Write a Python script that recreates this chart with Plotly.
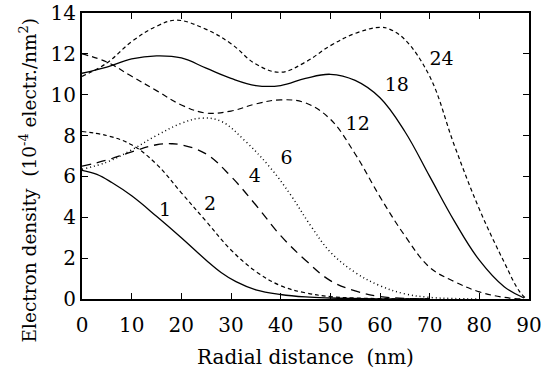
import plotly.graph_objects as go

# Radial distance (nm) sample points and electron density for each curve
x1 = [0, 3, 6, 10, 15, 20, 25, 28, 31, 35, 40, 45, 50, 60, 70]
y1 = [6.3, 6.1, 5.7, 5.05, 4.05, 3.0, 1.9, 1.3, 0.85, 0.45, 0.22, 0.1, 0.05, 0.01, 0.0]

x2 = [0, 5, 10, 15, 20, 25, 30, 35, 40, 45, 50, 55, 60, 70]
y2 = [8.2, 8.0, 7.55, 6.6, 5.2, 3.8, 2.4, 1.35, 0.65, 0.3, 0.12, 0.05, 0.02, 0.0]

x4 = [0, 5, 10, 15, 18, 20, 25, 30, 35, 40, 45, 50, 55, 60, 65, 70]
y4 = [6.5, 6.8, 7.2, 7.55, 7.6, 7.55, 7.1, 6.0, 4.6, 3.1, 1.9, 0.9, 0.4, 0.12, 0.03, 0.0]

x6 = [0, 5, 10, 15, 20, 24, 28, 33, 38, 42, 46, 50, 55, 60, 65, 70, 75, 80]
y6 = [6.35, 6.7, 7.3, 8.0, 8.6, 8.85, 8.7, 7.7, 6.4, 5.1, 3.6, 2.3, 1.3, 0.65, 0.25, 0.08, 0.02, 0.0]

x12 = [0, 5, 10, 15, 20, 25, 30, 35, 40, 45, 50, 55, 60, 65, 70, 75, 80, 85, 89]
y12 = [12.0, 11.6, 10.9, 10.2, 9.5, 9.1, 9.2, 9.55, 9.75, 9.6, 8.8, 7.1, 5.0, 3.1, 1.55, 0.85, 0.35, 0.08, 0.0]

x18 = [0, 5, 10, 15, 20, 25, 30, 35, 40, 45, 50, 55, 60, 65, 70, 75, 80, 85, 89]
y18 = [11.05, 11.35, 11.75, 11.9, 11.8, 11.3, 10.8, 10.45, 10.45, 10.8, 11.0, 10.7, 9.85, 8.2, 6.0, 3.8, 1.9, 0.6, 0.05]

x24 = [0, 5, 10, 15, 19, 25, 30, 35, 40, 45, 50, 55, 60, 62, 65, 70, 75, 80, 85, 88, 89.5]
y24 = [10.9, 11.55, 12.6, 13.35, 13.65, 13.2, 12.5, 11.5, 11.1, 11.6, 12.4, 13.0, 13.3, 13.2, 12.7, 10.9, 7.5, 4.4, 1.8, 0.4, 0.0]

curve_labels = ["1", "2", "4", "6", "12", "18", "24"]
label_x = [16.7, 25.8, 34.8, 41.2, 55.5, 63.4, 72.4]
label_y = [4.3, 4.6, 5.95, 6.85, 8.5, 10.4, 11.7]

x_ticks = [0, 10, 20, 30, 40, 50, 60, 70, 80, 90]
y_ticks = [0, 2, 4, 6, 8, 10, 12, 14]

x_title = "Radial distance  (nm)"
y_title = "Electron density  (10<sup>-4</sup> electr./nm<sup>2</sup>)"

series = [
    (x1, y1, "solid", 1.3),
    (x2, y2, "4px,3px", 1.2),
    (x4, y4, "9px,6px", 1.3),
    (x6, y6, "1px,3px", 1.5),
    (x12, y12, "6px,4px", 1.2),
    (x18, y18, "solid", 1.3),
    (x24, y24, "4px,3px", 1.2),
]

fig = go.Figure()
for xs, ys, dash, w in series:
    fig.add_trace(go.Scatter(
        x=xs, y=ys, mode="lines",
        line=dict(color="black", width=w, dash=dash, shape="spline", smoothing=1.1),
        showlegend=False, hoverinfo="skip",
    ))

fig.add_trace(go.Scatter(
    x=label_x, y=label_y, mode="text", text=curve_labels,
    textfont=dict(family="DejaVu Serif", size=19, color="black"),
    showlegend=False, hoverinfo="skip",
))

font = dict(family="DejaVu Serif", size=20, color="black")

fig.update_layout(
    width=541, height=374,
    margin=dict(l=82, r=12, t=13, b=75),
    paper_bgcolor="white", plot_bgcolor="white",
    font=font,
)
fig.update_xaxes(
    range=[0, 90], tickvals=x_ticks, ticks="inside", ticklen=6, tickwidth=1.2,
    tickcolor="black", showline=True, linecolor="black", linewidth=2, mirror="allticks",
    showgrid=False, zeroline=False, tickfont=font, automargin=False,
    ticklabeloverflow="allow", ticklabelstandoff=7,
    title=dict(text=x_title, font=font, standoff=14),
)
fig.update_yaxes(
    range=[0, 14], tickvals=y_ticks, ticks="inside", ticklen=6, tickwidth=1.2,
    tickcolor="black", showline=True, linecolor="black", linewidth=2, mirror="allticks",
    showgrid=False, zeroline=False, tickfont=font, automargin=False,
    ticklabeloverflow="allow",
)
fig.add_annotation(
    text=y_title, textangle=-90, xref="paper", yref="paper",
    x=-0.12, y=0.416, xanchor="center", yanchor="middle", showarrow=False,
    font=dict(family="DejaVu Serif", size=18.5, color="black"),
)

fig.write_html(
    "out.html",
    config={"displayModeBar": False},
    post_script="document.body.style.margin='0';document.body.style.overflow='hidden';",
)
